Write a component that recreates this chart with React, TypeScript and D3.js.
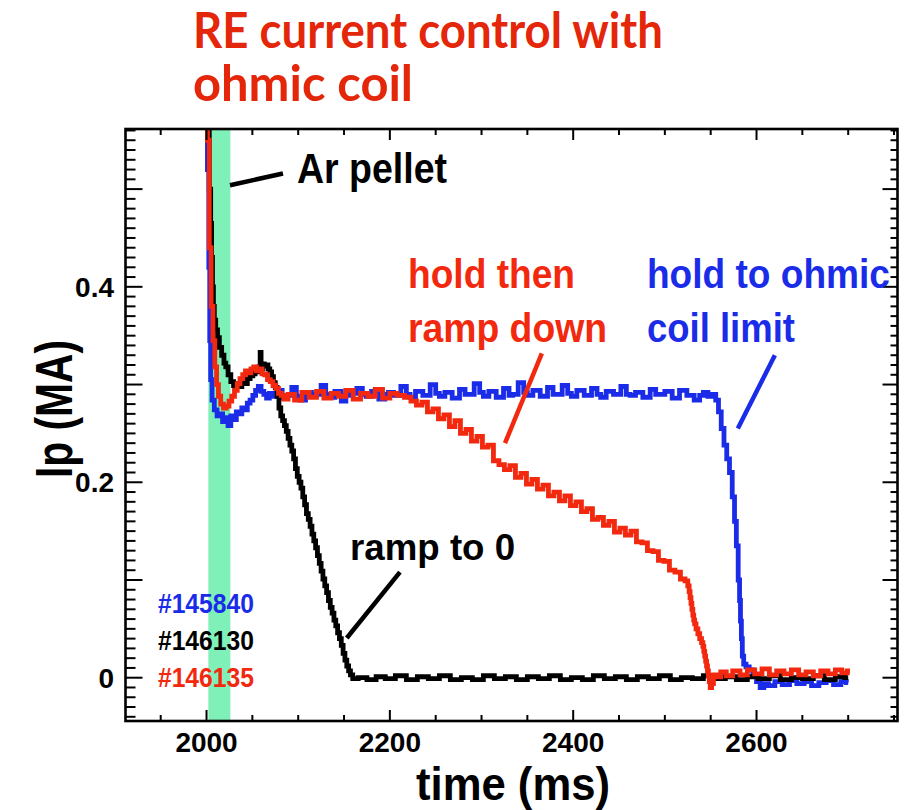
import React from "react";
import * as d3 from "d3";

// ---- data: plasma current Ip (MA) vs time (ms) for three discharges ----
type Pt = [number, number];

const shot145840: Pt[] = [
  [2000, 0.62], [2002, 0.52], [2003, 0.42], [2004, 0.345], [2005, 0.305], [2007, 0.284],
  [2010, 0.274], [2013, 0.268], [2016, 0.27], [2019, 0.262], [2022, 0.266], [2025, 0.258],
  [2028, 0.268], [2031, 0.264], [2034, 0.272], [2037, 0.27], [2040, 0.276], [2043, 0.274],
  [2046, 0.281], [2049, 0.284], [2052, 0.289], [2055, 0.294], [2058, 0.298], [2061, 0.293],
  [2064, 0.29], [2067, 0.286], [2070, 0.291], [2074, 0.288],
  [2080, 0.294], [2085, 0.286], [2090, 0.289], [2096, 0.297], [2100, 0.288], [2104, 0.284],
  [2112, 0.292], [2117, 0.288], [2122, 0.29], [2128, 0.299], [2132, 0.29], [2136, 0.287],
  [2144, 0.293], [2150, 0.283], [2154, 0.289], [2160, 0.291], [2168, 0.296], [2172, 0.29],
  [2176, 0.288], [2184, 0.293], [2192, 0.285], [2197, 0.29], [2200, 0.292], [2208, 0.289],
  [2216, 0.298], [2220, 0.29], [2224, 0.287], [2232, 0.293], [2240, 0.289], [2248, 0.3],
  [2252, 0.291], [2256, 0.288], [2264, 0.292], [2272, 0.286], [2280, 0.295], [2284, 0.29],
  [2288, 0.29], [2296, 0.301], [2300, 0.292], [2304, 0.288], [2312, 0.293], [2320, 0.287],
  [2328, 0.296], [2332, 0.289], [2336, 0.29], [2344, 0.302], [2348, 0.292], [2352, 0.289],
  [2360, 0.294], [2368, 0.288], [2376, 0.297], [2380, 0.29], [2384, 0.29], [2392, 0.299],
  [2396, 0.291], [2400, 0.288], [2408, 0.294], [2416, 0.289], [2424, 0.296], [2428, 0.29],
  [2432, 0.287], [2440, 0.293], [2448, 0.29], [2456, 0.298], [2460, 0.29], [2464, 0.289],
  [2472, 0.292], [2480, 0.287], [2488, 0.295], [2492, 0.29], [2496, 0.29], [2504, 0.293],
  [2512, 0.286], [2520, 0.294], [2528, 0.289], [2536, 0.284], [2540, 0.289], [2544, 0.292],
  [2550, 0.288], [2554, 0.29], [2557, 0.284], [2560, 0.272], [2563, 0.255], [2566, 0.238],
  [2569, 0.224], [2572, 0.21], [2575, 0.185], [2577, 0.16], [2579, 0.135], [2581, 0.1],
  [2582, 0.079], [2583, 0.058], [2584, 0.04], [2585, 0.022], [2587, 0.014], [2590, 0.011],
  [2594, 0.008], [2598, 0.003], [2602, -0.004], [2606, -0.01], [2610, -0.006], [2616, -0.008],
  [2624, -0.004], [2632, -0.007], [2640, -0.003], [2648, -0.006], [2656, -0.004], [2664, -0.008],
  [2672, -0.005], [2680, -0.003], [2688, -0.007], [2696, -0.004], [2700, -0.005],
];

const shot146130: Pt[] = [
  [2000, 0.62], [2002, 0.57], [2004, 0.5], [2005, 0.465], [2006, 0.43], [2007, 0.4],
  [2008, 0.38], [2009, 0.366], [2011, 0.356], [2013, 0.348], [2015, 0.338], [2018, 0.33],
  [2020, 0.322], [2022, 0.318], [2025, 0.31], [2028, 0.303], [2031, 0.299], [2034, 0.301],
  [2037, 0.298], [2040, 0.302], [2043, 0.301], [2046, 0.306], [2049, 0.309], [2052, 0.311],
  [2054, 0.316], [2056, 0.313], [2058, 0.318], [2059, 0.333], [2060, 0.316], [2062, 0.321],
  [2064, 0.319], [2066, 0.32], [2068, 0.316], [2070, 0.313], [2072, 0.308], [2074, 0.302],
  [2076, 0.297], [2078, 0.288], [2080, 0.276], [2082, 0.268], [2084, 0.263], [2086, 0.258],
  [2088, 0.252], [2090, 0.245], [2092, 0.238], [2094, 0.232], [2096, 0.224], [2098, 0.214],
  [2100, 0.206], [2102, 0.2], [2104, 0.194], [2106, 0.185], [2108, 0.177], [2110, 0.168],
  [2112, 0.162], [2114, 0.155], [2116, 0.147], [2118, 0.14], [2120, 0.133], [2122, 0.125],
  [2124, 0.117], [2126, 0.109], [2128, 0.101], [2130, 0.094], [2132, 0.087], [2134, 0.079],
  [2136, 0.072], [2138, 0.066], [2140, 0.059], [2142, 0.053], [2144, 0.046], [2146, 0.04],
  [2148, 0.033], [2150, 0.025], [2152, 0.018], [2154, 0.012], [2156, 0.007], [2158, 0.003],
  [2161, -0.001],
  [2170, 0.0], [2180, -0.002], [2190, 0.001], [2200, -0.001], [2212, 0.002], [2224, -0.002],
  [2236, 0.001], [2248, -0.001], [2260, 0.002], [2272, -0.002], [2284, 0.0], [2296, -0.002],
  [2308, 0.002], [2320, -0.001], [2332, 0.001], [2344, -0.002], [2356, 0.001], [2368, -0.001],
  [2380, 0.002], [2392, -0.002], [2404, 0.0], [2416, -0.002], [2428, 0.002], [2440, -0.001],
  [2452, 0.001], [2464, -0.002], [2476, 0.001], [2488, -0.001], [2500, 0.002], [2512, -0.002],
  [2524, 0.0], [2536, -0.001], [2548, 0.002], [2560, -0.001], [2572, 0.001], [2584, -0.002],
  [2596, 0.001], [2608, -0.001], [2620, 0.002], [2632, -0.002], [2644, 0.0], [2656, -0.001],
  [2668, 0.002], [2680, -0.002], [2692, 0.001], [2700, 0.0],
];

const shot146135: Pt[] = [
  [2000, 0.62], [2002, 0.55], [2004, 0.44], [2006, 0.38], [2008, 0.345], [2010, 0.318],
  [2012, 0.3], [2014, 0.288], [2017, 0.28], [2020, 0.276], [2023, 0.278], [2026, 0.283],
  [2029, 0.288], [2032, 0.294], [2035, 0.301], [2038, 0.306], [2041, 0.31], [2044, 0.314],
  [2047, 0.312], [2050, 0.316], [2053, 0.318], [2056, 0.314], [2059, 0.316], [2062, 0.311],
  [2065, 0.31], [2068, 0.305], [2071, 0.303], [2074, 0.299], [2077, 0.296], [2080, 0.291],
  [2083, 0.289], [2086, 0.285],
  [2092, 0.29], [2100, 0.284], [2108, 0.292], [2116, 0.287], [2124, 0.293], [2132, 0.286],
  [2140, 0.291], [2148, 0.288], [2156, 0.294], [2164, 0.285], [2172, 0.291], [2180, 0.288],
  [2188, 0.295], [2196, 0.286], [2204, 0.291], [2212, 0.289], [2220, 0.287], [2226, 0.283],
  [2232, 0.279], [2238, 0.282], [2244, 0.272], [2250, 0.275], [2256, 0.265], [2262, 0.269],
  [2268, 0.257], [2274, 0.263], [2280, 0.25], [2286, 0.254], [2292, 0.242], [2298, 0.247],
  [2304, 0.236], [2310, 0.238], [2316, 0.222], [2322, 0.218], [2328, 0.213], [2334, 0.217],
  [2340, 0.205], [2346, 0.209], [2352, 0.198], [2358, 0.203], [2364, 0.193], [2370, 0.197],
  [2376, 0.186], [2382, 0.19], [2388, 0.181], [2394, 0.186], [2400, 0.176], [2406, 0.18],
  [2412, 0.17], [2418, 0.173], [2424, 0.162], [2430, 0.164], [2436, 0.156], [2442, 0.16],
  [2448, 0.149], [2454, 0.153], [2460, 0.146], [2466, 0.15], [2472, 0.139], [2478, 0.138],
  [2484, 0.13], [2490, 0.129], [2496, 0.12], [2502, 0.119], [2508, 0.11], [2514, 0.108],
  [2520, 0.101], [2524, 0.099], [2526, 0.094], [2527, 0.088], [2528, 0.082], [2529, 0.076],
  [2530, 0.07], [2531, 0.064], [2532, 0.059], [2533, 0.055], [2535, 0.05], [2537, 0.045],
  [2539, 0.04], [2541, 0.036], [2542, 0.032], [2543, 0.027], [2544, 0.022], [2545, 0.017],
  [2546, 0.012], [2547, 0.007], [2548, 0.002], [2549, -0.004], [2550, -0.01], [2552, -0.006],
  [2554, 0.003], [2558, 0.001], [2564, 0.006], [2570, 0.002],
  [2578, 0.007], [2586, 0.003], [2594, 0.008], [2602, 0.004], [2610, 0.009], [2618, 0.003],
  [2626, 0.007], [2634, 0.004], [2642, 0.008], [2650, 0.003], [2658, 0.006], [2666, 0.002],
  [2674, 0.007], [2682, 0.004], [2690, 0.008], [2696, 0.005], [2702, 0.007],
];

const seriesNames = ["#145840", "#146130", "#146135"];
const seriesColors = ["#1b2ce8", "#000000", "#f2290f"];
const seriesData = [shot145840, shot146130, shot146135];

// Ar pellet injection window (ms)
const pelletWindow = [2002, 2026];

// axis ticks
const xMajorTicks = [2000, 2200, 2400, 2600];
const xMinorStep = 50;
const yMajorTicks = [0, 0.1, 0.2, 0.3, 0.4, 0.5];
const yLabeledTicks = [0, 0.2, 0.4];
const yLabels = ["0", "0.2", "0.4"];
const yMinorStep = 0.01;

// annotations, anchored in data coordinates (time ms, Ip MA)
const annotationTexts = [
  { lines: ["Ar pellet"], t: 2098.7, ip: 0.506, color: "#000000", size: 42, widths: [150] },
  { lines: ["hold then", "ramp down"], t: 2219.8, ip: 0.3985, color: "#f2290f", size: 40, widths: [167, 199] },
  { lines: ["hold to ohmic", "coil limit"], t: 2480.5, ip: 0.3985, color: "#1b2ce8", size: 40, widths: [243, 148] },
  { lines: ["ramp to 0"], t: 2156.6, ip: 0.1205, color: "#000000", size: 36, widths: [165] },
];
const pointerLines = [
  { from: [2025.6, 0.504], to: [2083.4, 0.516], color: "#000000" },
  { from: [2365.8, 0.332], to: [2325.6, 0.24], color: "#f2290f" },
  { from: [2620.0, 0.33], to: [2579.6, 0.255], color: "#1b2ce8" },
  { from: [2211.0, 0.108], to: [2153.0, 0.0406], color: "#000000" },
];
const legendAnchor = { t: 1947, ip: 0.0662, step: 0.0378 };

const W = 909;
const H = 810;
const frame = { left: 125.5, right: 897.5, top: 129, bottom: 721 };
const FONT = "'Liberation Sans', Arial, Helvetica, sans-serif";

export default function App() {
  const x = d3.scaleLinear().domain([1911.6, 2753.8]).range([frame.left, frame.right]);
  const y = d3.scaleLinear().domain([-0.0443, 0.5615]).range([frame.bottom, frame.top]);

  // digitised signal: drawn as a step trace
  const line = d3
    .line<Pt>()
    .x((d) => x(d[0]))
    .y((d) => y(d[1]))
    .curve(d3.curveStep);

  const xMinor = d3.range(1950, 2754, xMinorStep).filter((v) => !xMajorTicks.includes(v));
  const yMinor = d3
    .range(-0.04, 0.5615, yMinorStep)
    .map((v) => Math.round(v * 1000) / 1000)
    .filter((v) => !yMajorTicks.some((m) => Math.abs(m - v) < 1e-6));

  // drawing order: blue underneath, then black, red on top
  const order = [0, 1, 2];

  return (
    <svg
      width={W}
      height={H}
      style={{ position: "absolute", left: 0, top: 0, background: "#fff" }}
      fontFamily={FONT}
    >
      <rect x={0} y={0} width={W} height={H} fill="#ffffff" />
      <defs>
        <clipPath id="plotClip">
          <rect x={frame.left} y={frame.top} width={frame.right - frame.left} height={frame.bottom - frame.top} />
        </clipPath>
      </defs>

      {/* title */}
      <g fill="#e4260b" fontFamily="Lato, 'Open Sans', sans-serif" fontWeight={700} fontSize={50}>
        <text x={193} y={48} textLength={470} lengthAdjust="spacingAndGlyphs">RE current control with</text>
        <text x={193} y={101} textLength={220} lengthAdjust="spacingAndGlyphs">ohmic coil</text>
      </g>

      {/* pellet window */}
      <rect
        x={x(pelletWindow[0])}
        y={frame.top}
        width={x(pelletWindow[1]) - x(pelletWindow[0])}
        height={frame.bottom - frame.top}
        fill="#7ef0b8"
      />

      {/* traces */}
      <g clipPath="url(#plotClip)">
        {order.map((i) => (
          <path
            key={seriesNames[i]}
            d={line(seriesData[i]) || ""}
            fill="none"
            stroke={seriesColors[i]}
            strokeWidth={4.8}
            strokeLinejoin="miter"
          />
        ))}
      </g>

      {/* frame and ticks */}
      <g stroke="#000" strokeWidth={2}>
        {xMajorTicks.map((v) => (
          <g key={"xM" + v}>
            <line x1={x(v)} x2={x(v)} y1={frame.bottom} y2={frame.bottom - 11} />
            <line x1={x(v)} x2={x(v)} y1={frame.top} y2={frame.top + 11} />
          </g>
        ))}
        {xMinor.map((v) => (
          <g key={"xm" + v}>
            <line x1={x(v)} x2={x(v)} y1={frame.bottom} y2={frame.bottom - 6} />
            <line x1={x(v)} x2={x(v)} y1={frame.top} y2={frame.top + 6} />
          </g>
        ))}
        {yMajorTicks.map((v) => (
          <g key={"yM" + v}>
            <line x1={frame.left} x2={frame.left + 17} y1={y(v)} y2={y(v)} />
            <line x1={frame.right} x2={frame.right - 15} y1={y(v)} y2={y(v)} />
          </g>
        ))}
        {yMinor.map((v) => (
          <g key={"ym" + v}>
            <line x1={frame.left} x2={frame.left + 10} y1={y(v)} y2={y(v)} />
            <line x1={frame.right} x2={frame.right - 7} y1={y(v)} y2={y(v)} />
          </g>
        ))}
      </g>
      <rect
        x={frame.left}
        y={frame.top}
        width={frame.right - frame.left}
        height={frame.bottom - frame.top}
        fill="none"
        stroke="#000"
        strokeWidth={2.6}
      />

      {/* tick labels */}
      <g fontWeight={700} fontSize={28} fill="#000">
        {xMajorTicks.map((v) => (
          <text key={"xl" + v} x={x(v)} y={752} textAnchor="middle">
            {v}
          </text>
        ))}
        {yLabeledTicks.map((v, i) => (
          <text key={"yl" + v} x={114} y={y(v) + 10} textAnchor="end">
            {yLabels[i]}
          </text>
        ))}
      </g>

      {/* axis titles */}
      <text x={416} y={800} fontWeight={700} fontSize={47} textLength={194} lengthAdjust="spacingAndGlyphs">
        time (ms)
      </text>
      <text
        transform={`translate(72, 478) rotate(-90)`}
        fontWeight={700}
        fontSize={52}
        textLength={138}
        lengthAdjust="spacingAndGlyphs"
      >
        Ip (MA)
      </text>

      {/* annotation pointers */}
      {pointerLines.map((p, i) => (
        <line
          key={"pl" + i}
          x1={x(p.from[0])}
          y1={y(p.from[1])}
          x2={x(p.to[0])}
          y2={y(p.to[1])}
          stroke={p.color}
          strokeWidth={4.5}
        />
      ))}

      {/* annotation text */}
      {annotationTexts.map((a, i) => (
        <g key={"at" + i} fill={a.color} fontWeight={700} fontSize={a.size}>
          {a.lines.map((s, j) => (
            <text
              key={j}
              x={x(a.t)}
              y={y(a.ip) + j * 54}
              textLength={a.widths[j]}
              lengthAdjust="spacingAndGlyphs"
            >
              {s}
            </text>
          ))}
        </g>
      ))}

      {/* legend */}
      <g fontWeight={700} fontSize={28}>
        {seriesNames.map((n, i) => (
          <text
            key={"lg" + n}
            x={x(legendAnchor.t)}
            y={y(legendAnchor.ip - i * legendAnchor.step)}
            fill={seriesColors[i]}
            textLength={96}
            lengthAdjust="spacingAndGlyphs"
          >
            {n}
          </text>
        ))}
      </g>
    </svg>
  );
}
